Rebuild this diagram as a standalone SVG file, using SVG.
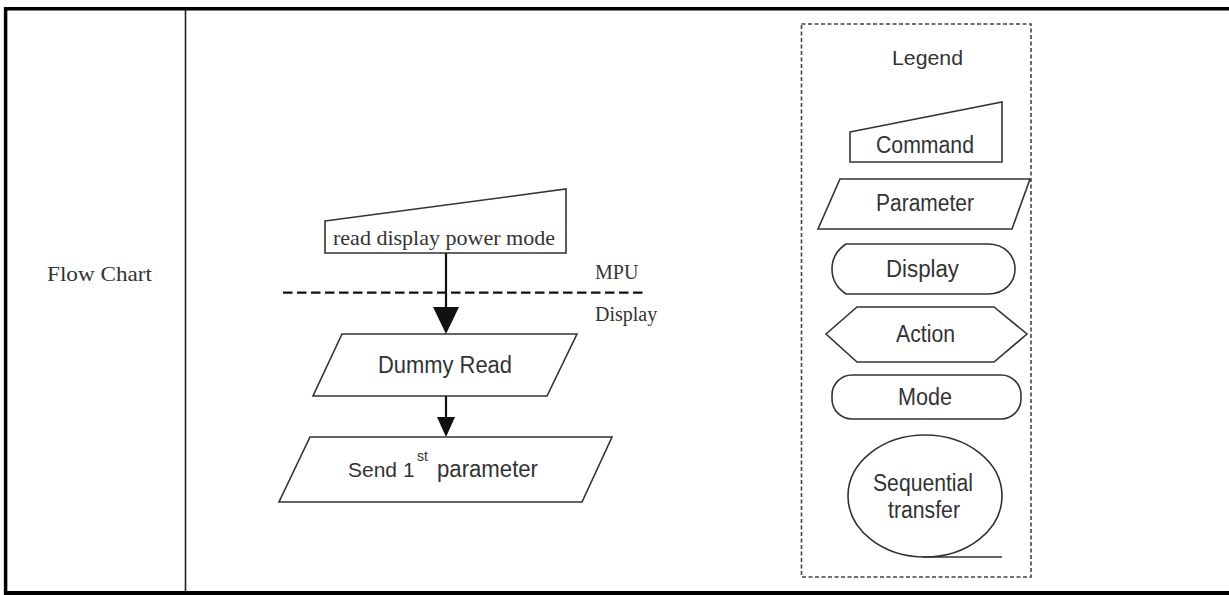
<svg xmlns="http://www.w3.org/2000/svg" width="1229" height="595" viewBox="0 0 1229 595">
<style>
.sh{fill:#fff;stroke:#333;stroke-width:1.6}
.sans{font-family:"Liberation Sans",Arial,sans-serif;fill:#333;text-anchor:middle;font-size:23px}
.serif{font-family:"Liberation Serif","Times New Roman",serif;fill:#333}
.conn{stroke:#111;stroke-width:2.2;fill:none}
.head{fill:#111;stroke:none}
</style>
<rect x="0" y="0" width="1229" height="595" fill="#fff"/>
<g id="table">
<line x1="4" y1="8.8" x2="1229" y2="8.8" stroke="#000" stroke-width="3.5"/>
<line x1="5.6" y1="7" x2="5.6" y2="595" stroke="#000" stroke-width="3.5"/>
<line x1="4" y1="593" x2="1229" y2="593" stroke="#000" stroke-width="4"/>
<line x1="185.5" y1="10" x2="185.5" y2="591" stroke="#222" stroke-width="1.6"/>
<text class="serif" x="47" y="281" font-size="22" textLength="105" lengthAdjust="spacingAndGlyphs">Flow Chart</text>
</g>
<g id="cmd-read">
<polygon class="sh" points="325,221 566,189 566,253 325,253"/>
<text class="serif" x="333" y="245" font-size="22" textLength="222" lengthAdjust="spacingAndGlyphs">read display power mode</text>
</g>
<g id="boundary">
<line x1="283" y1="292.7" x2="643" y2="292.7" stroke="#111" stroke-width="2.2" stroke-dasharray="9.5,4.5"/>
<text class="serif" x="595" y="279" font-size="20">MPU</text>
<text class="serif" x="595" y="321" font-size="20">Display</text>
</g>
<g id="dummy-read">
<polygon class="sh" points="342,334 577,334 547,396 313,396"/>
<text class="sans" x="378" y="373" style="text-anchor:start" textLength="134" lengthAdjust="spacingAndGlyphs">Dummy Read</text>
</g>
<g id="send-param">
<polygon class="sh" points="310,437 612,437 582,502 279,502"/>
<text class="sans" x="348" y="477" style="text-anchor:start;font-size:21px">Send 1</text>
<text class="sans" x="417" y="461" style="text-anchor:start;font-size:14px">st</text>
<text class="sans" x="437" y="477" style="text-anchor:start" textLength="101" lengthAdjust="spacingAndGlyphs">parameter</text>
</g>
<g id="connectors">
<line class="conn" x1="446" y1="253" x2="446" y2="309"/>
<polygon class="head" points="433,307 459,307 446,334"/>
<line class="conn" x1="446" y1="396" x2="446" y2="419"/>
<polygon class="head" points="437,417 455,417 446,437"/>
</g>
<g id="legend">
<rect x="801.5" y="24" width="229.5" height="553" fill="none" stroke="#444" stroke-width="1.6" stroke-dasharray="4,2.5"/>
<text class="sans" x="892" y="65" style="text-anchor:start;font-size:21px" textLength="71" lengthAdjust="spacingAndGlyphs">Legend</text>
</g>
<g id="legend-command">
<polygon class="sh" points="850,132 1002,102 1002,162 850,162"/>
<text class="sans" x="876" y="153" style="text-anchor:start" textLength="98" lengthAdjust="spacingAndGlyphs">Command</text>
</g>
<g id="legend-parameter">
<polygon class="sh" points="840,179 1030,179 1012,229 818,229"/>
<text class="sans" x="876" y="211" style="text-anchor:start" textLength="98" lengthAdjust="spacingAndGlyphs">Parameter</text>
</g>
<g id="legend-display">
<path class="sh" d="M846,244 L988,244 C1005,244 1015,256 1015,269 C1015,282 1005,294 988,294 L846,294 C837,288 832,279 832,269 C832,259 837,250 846,244 Z"/>
<text class="sans" x="886" y="277" style="text-anchor:start" textLength="73" lengthAdjust="spacingAndGlyphs">Display</text>
</g>
<g id="legend-action">
<polygon class="sh" points="826,334 857,307 994,307 1027,334 994,362 857,362"/>
<text class="sans" x="896" y="342" style="text-anchor:start" textLength="59" lengthAdjust="spacingAndGlyphs">Action</text>
</g>
<g id="legend-mode">
<rect class="sh" x="832" y="375" width="189" height="44" rx="20" ry="20"/>
<text class="sans" x="898" y="405" style="text-anchor:start" textLength="54" lengthAdjust="spacingAndGlyphs">Mode</text>
</g>
<g id="legend-sequential">
<ellipse class="sh" cx="925" cy="496" rx="77" ry="61"/>
<line x1="923" y1="557" x2="1002" y2="557" stroke="#333" stroke-width="1.6"/>
<text class="sans" x="873" y="491" style="text-anchor:start" textLength="100" lengthAdjust="spacingAndGlyphs">Sequential</text>
<text class="sans" x="888" y="518" style="text-anchor:start" textLength="72" lengthAdjust="spacingAndGlyphs">transfer</text>
</g>
</svg>
